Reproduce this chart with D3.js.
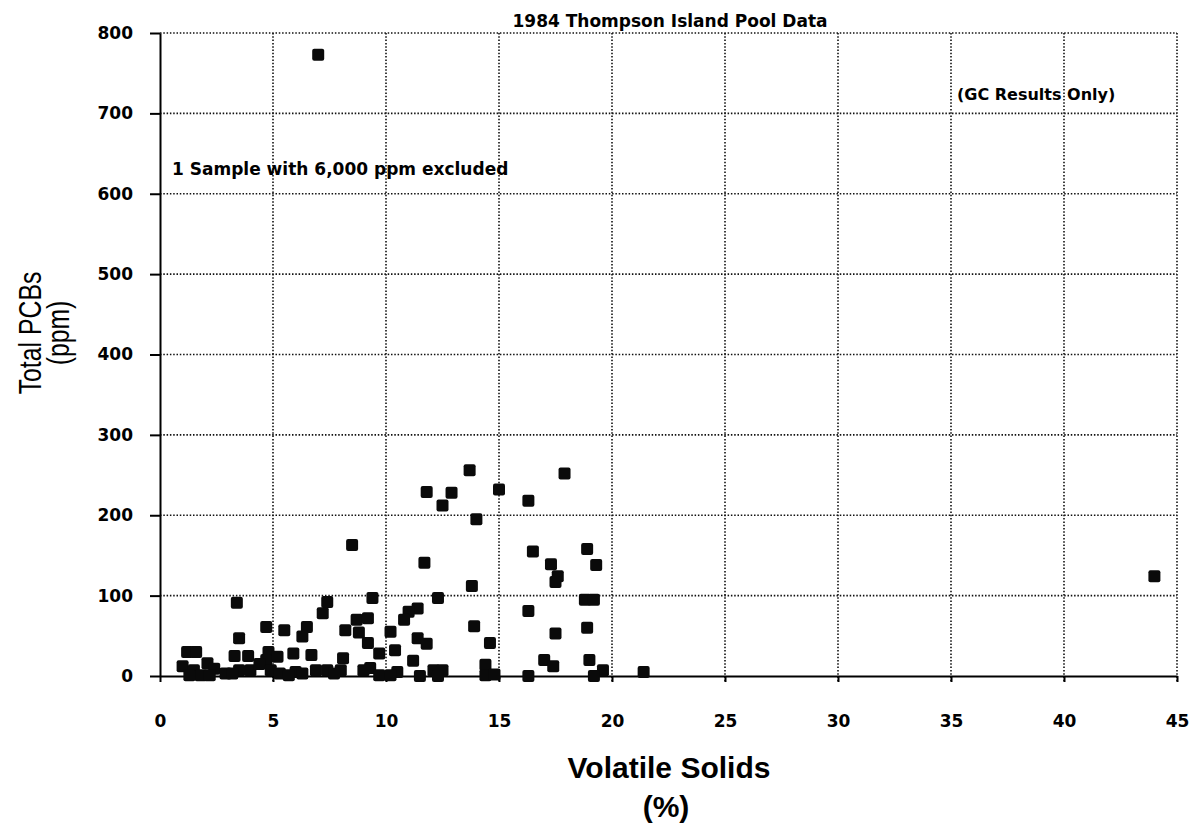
<!DOCTYPE html>
<html><head><meta charset="utf-8">
<script src="https://cdn.jsdelivr.net/npm/d3@7"></script>
<style>
body{margin:0;background:#fff;}
text{font-family:"DejaVu Sans",Arial,Helvetica,sans-serif;}
</style>
</head><body>
<svg id="chart" width="1197" height="830"></svg>
<script>
// Volatile solids (%) and Total PCBs (ppm)
const volatileSolids = [
  13.7,17.9,11.8,12.9,12.5,15.0,16.3,14.0,16.5,18.9,11.7,17.3,19.3,17.6,17.5,13.8,
  12.3,18.8,19.2,16.3,11.4,11.0,10.8,13.9,17.5,18.9,11.4,11.8,14.6,11.2,17.0,17.4,
  19.0,14.4,12.1,12.5,11.5,12.3,14.4,14.8,16.3,19.6,19.2,21.4,
  8.5,3.4,7.4,7.2,9.4,4.7,5.5,6.5,6.3,8.7,9.2,8.2,8.8,10.2,3.5,1.2,1.6,3.3,3.9,4.8,
  4.7,5.2,5.9,6.7,9.2,9.7,10.4,8.1,9.3,
  1.0,1.5,2.1,2.4,2.9,1.8,3.5,4.0,4.4,4.9,5.3,6.0,6.9,7.4,8.0,9.7,10.5,1.3,2.2,3.2,
  5.7,6.3,7.7,10.2,9.0,
  7.0,44.0
];
const totalPCBs = [
  256,252,229,228,212,232,218,195,155,158,141,139,138,124,117,112,
  97,95,95,81,84,80,70,62,53,60,47,40,41,19,20,12,
  20,14,7,7,0,0,1,2,0,7,0,5,
  163,91,92,78,97,61,57,61,49,70,72,57,54,55,47,30,30,25,25,30,
  20,24,28,26,41,28,32,22,10,
  12,7,16,9,3,1,7,7,15,7,3,5,7,7,7,1,5,1,1,3,
  1,3,3,1,7,
  773,124
];
const xTicks = [0,5,10,15,20,25,30,35,40,45];
const yTicks = [0,100,200,300,400,500,600,700,800];

const titleText = "1984 Thompson Island Pool Data";
const noteText = "(GC Results Only)";
const excludedText = "1 Sample with 6,000 ppm excluded";
const xTitle = ["Volatile Solids", "(%)"];
const yTitle = ["Total PCBs", "(ppm)"];

const svg = d3.select("#chart");
const pL = 160, pR = 1177, pT = 33, pB = 676;

const x = d3.scaleLinear().domain([0,45]).range([pL,pR]);
const y = d3.scaleLinear().domain([0,800]).range([pB,pT]);

// grid (dotted)
const grid = svg.append("g");
grid.selectAll("line.v").data(xTicks.filter(d=>d>0)).join("line")
  .attr("x1",d=>x(d)).attr("x2",d=>x(d)).attr("y1",pT).attr("y2",pB+6)
  .attr("stroke","#111").attr("stroke-width",1.6).attr("stroke-dasharray","1.5,1.8");
grid.selectAll("line.h").data(yTicks.filter(d=>d>0)).join("line")
  .attr("x1",pL).attr("x2",pR).attr("y1",d=>y(d)).attr("y2",d=>y(d))
  .attr("stroke","#111").attr("stroke-width",1.6).attr("stroke-dasharray","1.5,1.8");

// axes
const yAxis = svg.append("g").attr("transform",`translate(${pL},0)`)
  .call(d3.axisLeft(y).tickValues(yTicks).tickSize(10).tickPadding(17).tickSizeOuter(0));
const xAxis = svg.append("g").attr("transform",`translate(0,${pB})`)
  .call(d3.axisBottom(x).tickValues(xTicks).tickSize(6).tickPadding(33).tickSizeOuter(0));
[xAxis,yAxis].forEach(a=>{
  a.select(".domain").attr("stroke","#000").attr("stroke-width",2);
  a.selectAll(".tick line").attr("stroke","#000").attr("stroke-width",2);
  a.selectAll(".tick text").attr("fill","#000")
    .style("font-family",'"DejaVu Sans",Arial,sans-serif')
    .style("font-size","17px").style("font-weight","bold");
});

// points
svg.append("g").selectAll("rect").data(volatileSolids.map((v,i)=>[v,totalPCBs[i]])).join("rect")
  .attr("x",d=>x(d[0])-6).attr("y",d=>y(d[1])-6)
  .attr("width",12).attr("height",12).attr("rx",2)
  .attr("fill","#0a0a0a");

// texts
svg.append("text").attr("x",670).attr("y",27).attr("text-anchor","middle")
  .style("font-size","17px").style("font-weight","bold").text(titleText);
svg.append("text").attr("x",957).attr("y",100)
  .style("font-size","16px").style("font-weight","bold").text(noteText);
svg.append("text").attr("x",172).attr("y",175)
  .style("font-size","17px").style("font-weight","bold").text(excludedText);

svg.append("text").attr("x",669).attr("y",778).attr("text-anchor","middle")
  .style("font-family",'"Liberation Sans",Arial,sans-serif')
  .style("font-size","30px").style("font-weight","bold").text(xTitle[0]);
svg.append("text").attr("x",666).attr("y",817).attr("text-anchor","middle")
  .style("font-family",'"Liberation Sans",Arial,sans-serif')
  .style("font-size","30px").style("font-weight","bold").text(xTitle[1]);

svg.append("text").attr("transform","translate(41,333) rotate(-90) scale(0.8,1)").attr("text-anchor","middle")
  .style("font-family",'"Liberation Sans",sans-serif')
  .style("font-size","31px").text(yTitle[0]);
svg.append("text").attr("transform","translate(69,333) rotate(-90) scale(0.8,1)").attr("text-anchor","middle")
  .style("font-family",'"Liberation Sans",sans-serif')
  .style("font-size","31px").text(yTitle[1]);
</script>
</body></html>
